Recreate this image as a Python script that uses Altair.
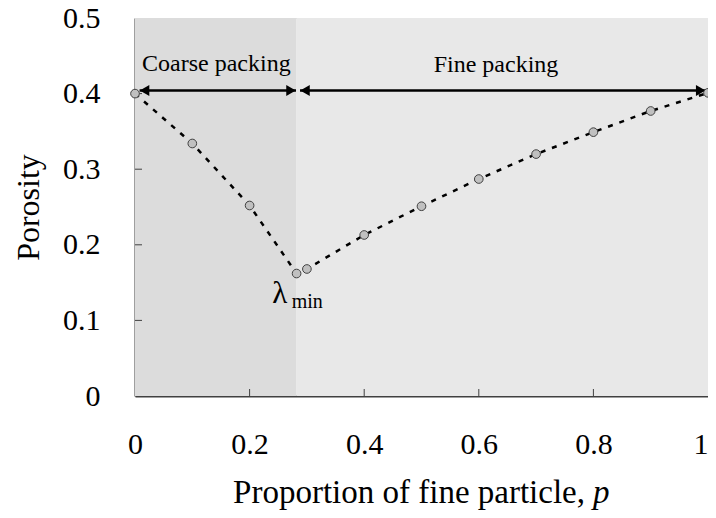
import altair as alt
import pandas as pd

# ---- data ----
p_vals = [0.0, 0.1, 0.2, 0.282, 0.3, 0.4, 0.5, 0.6, 0.7, 0.8, 0.9, 1.0]
porosity = [0.400, 0.334, 0.252, 0.162, 0.168, 0.213, 0.251, 0.287, 0.320, 0.349, 0.377, 0.401]

region_start = [0.0, 0.282]
region_end = [0.282, 1.0]
region_color = ["#dcdcdc", "#e8e8e8"]

arrow_start = [0.008, 0.288]
arrow_end = [0.281, 0.996]
arrow_y = [0.404, 0.404]

label_text = ["Coarse packing", "Fine packing"]
label_x = [0.142, 0.63]
label_y = [0.430, 0.428]

x_ticks = [0, 0.2, 0.4, 0.6, 0.8, 1]
y_ticks = [0, 0.1, 0.2, 0.3, 0.4, 0.5]

W, H = 573, 378
FONT = "Liberation Serif, Times New Roman, serif"

pts = pd.DataFrame({"p": p_vals, "e": porosity})
regions = pd.DataFrame({"s": region_start, "t": region_end, "c": region_color})
arrows = pd.DataFrame({"s": arrow_start, "t": arrow_end, "y": arrow_y})
labels = pd.DataFrame({"txt": label_text, "x": label_x, "y": label_y})
xt = pd.DataFrame({"v": x_ticks[1:-1]})
yt = pd.DataFrame({"v": y_ticks[1:-1]})

xs = alt.Scale(domain=[0, 1], nice=False)
ys = alt.Scale(domain=[0, 0.5], nice=False)

x_axis = alt.Axis(values=x_ticks, format="~g", title=None, ticks=False,
                  labelPadding=33, labelFontSize=30, labelFont=FONT, labelFlush=False,
                  labelOverlap=False,
                  labelAlign=alt.ExprRef(expr="datum.value == 1 ? 'right' : 'center'"),
                  domainColor="#404040", domainWidth=2, grid=False, labelColor="black")
y_axis = alt.Axis(values=y_ticks, format="~g", title="Porosity", ticks=False,
                  labelPadding=35, labelFontSize=30, labelFont=FONT, labelFlush=False,
                  labelOverlap=False,
                  titleFont=FONT, titleFontSize=32, titleFontWeight="normal",
                  titleColor="black", titlePadding=17,
                  domainColor="#404040", domainWidth=2, grid=False, labelColor="black")

bg = alt.Chart(regions).mark_rect(stroke=None).encode(
    x=alt.X("s:Q", scale=xs, axis=x_axis),
    x2="t:Q",
    y=alt.value(0), y2=alt.value(H),
    color=alt.Color("c:N", scale=None, legend=None),
)

ytick_rules = alt.Chart(yt).mark_rule(color="#404040", strokeWidth=1).encode(
    y=alt.Y("v:Q", scale=ys, axis=y_axis), x=alt.value(0), x2=alt.value(7))
xtick_rules = alt.Chart(xt).mark_rule(color="#404040", strokeWidth=1).encode(
    x=alt.X("v:Q", scale=xs), y=alt.value(H), y2=alt.value(H - 7))

arrow_lines = alt.Chart(arrows).mark_rule(color="black", strokeWidth=2.5).encode(
    x=alt.X("s:Q", scale=xs), x2="t:Q", y=alt.Y("y:Q", scale=ys))
head_left = alt.Chart(arrows).mark_point(shape="triangle-left", filled=True, color="black",
                                         size=120, opacity=1, xOffset=5).encode(
    x=alt.X("s:Q", scale=xs), y=alt.Y("y:Q", scale=ys))
head_right = alt.Chart(arrows).mark_point(shape="triangle-right", filled=True, color="black",
                                          size=120, opacity=1, xOffset=-5).encode(
    x=alt.X("t:Q", scale=xs), y=alt.Y("y:Q", scale=ys))

line = alt.Chart(pts).mark_line(color="black", strokeWidth=2.5, strokeDash=[5, 7]).encode(
    x=alt.X("p:Q", scale=xs), y=alt.Y("e:Q", scale=ys))
dots = alt.Chart(pts).mark_point(filled=True, fill="#c0c0c0", stroke="#404040",
                                 strokeWidth=1, size=75, opacity=1).encode(
    x=alt.X("p:Q", scale=xs), y=alt.Y("e:Q", scale=ys))

region_labels = alt.Chart(labels).mark_text(font=FONT, fontSize=24, color="black",
                                            baseline="alphabetic").encode(
    x=alt.X("x:Q", scale=xs), y=alt.Y("y:Q", scale=ys), text="txt:N")

lam = alt.Chart(pd.DataFrame({"x": [0.2526], "y": [0.123]})).mark_text(
    text="λ", font=FONT, fontSize=31, color="black", baseline="alphabetic").encode(
    x=alt.X("x:Q", scale=xs), y=alt.Y("y:Q", scale=ys))
lam_sub = alt.Chart(pd.DataFrame({"x": [0.2735], "y": [0.1164]})).mark_text(
    text="min", font=FONT, fontSize=20, color="black", baseline="alphabetic", align="left").encode(
    x=alt.X("x:Q", scale=xs), y=alt.Y("y:Q", scale=ys))

xtitle_main = alt.Chart(pd.DataFrame({"a": [0]})).mark_text(
    text="Proportion of fine particle,", font=FONT, fontSize=33, color="black",
    align="right", baseline="alphabetic").encode(x=alt.value(450), y=alt.value(485))
xtitle_p = alt.Chart(pd.DataFrame({"a": [0]})).mark_text(
    text="p", font=FONT, fontSize=33, fontStyle="italic", color="black",
    align="left", baseline="alphabetic").encode(x=alt.value(458), y=alt.value(485))

chart = alt.layer(
    bg, ytick_rules, xtick_rules, line, arrow_lines, head_left, head_right, dots,
    region_labels, lam, lam_sub, xtitle_main, xtitle_p,
).properties(
    width=W, height=H,
    autosize=alt.AutoSizeParams(type="none"),
    padding={"left": 127, "top": 10, "right": 0, "bottom": 114},
).configure_view(stroke="#a8a8a8", strokeWidth=1.5).configure(background="white")

chart.save("out.html", embed_options={"renderer": "svg", "actions": False})
